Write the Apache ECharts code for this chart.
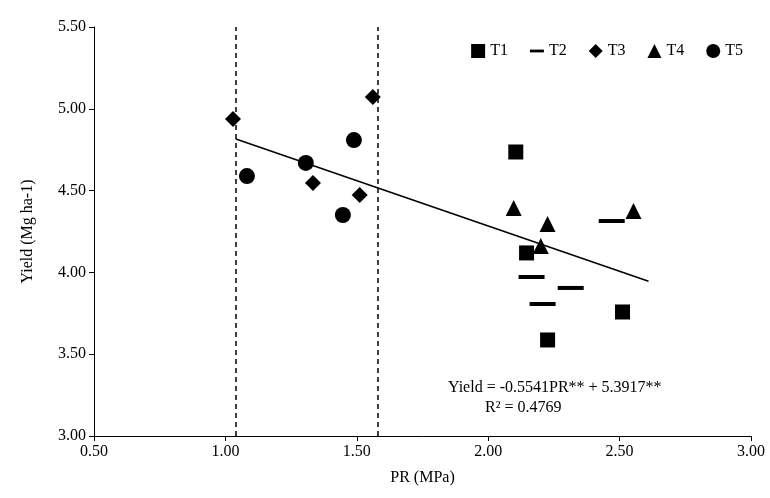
<!DOCTYPE html>
<html><head><meta charset="utf-8">
<script src="https://cdn.jsdelivr.net/npm/echarts@6/dist/echarts.min.js"></script>
<style>html,body{margin:0;background:#fff}#c{width:770px;height:498px}</style>
</head><body><div id="c"></div>
<script>
const t1 = [[2.105, 4.736], [2.146, 4.119], [2.226, 3.587], [2.511, 3.758]];
const t2 = [[2.165, 3.972], [2.207, 3.807], [2.314, 3.905], [2.470, 4.314]];
const t3 = [[1.029, 4.938], [1.333, 4.546], [1.511, 4.473], [1.561, 5.072]];
const t4 = [[2.097, 4.394], [2.226, 4.296], [2.200, 4.161], [2.553, 4.375]];
const t5 = [[1.082, 4.589], [1.306, 4.669], [1.447, 4.351], [1.489, 4.809]];
const slope = -0.5541, intercept = 5.3917;
const fitRange = [1.04, 2.61];
const vLines = [1.036, 1.584];

const font = 'Liberation Serif';
const dash = 'path://M0,0h10v2h-10z';
const chart = echarts.init(document.getElementById('c'));
function sc(name, data, symbol, size) {
  return { name, type: 'scatter', data, symbol, symbolSize: size,
    itemStyle: { color: '#000', opacity: 1 } };
}
chart.setOption({
  animation: false,
  textStyle: { fontFamily: font },
  grid: { left: 94, right: 19, top: 27, bottom: 62 },
  legend: {
    right: 22, top: 38, itemGap: 22, itemWidth: 14, itemHeight: 14,
    textStyle: { fontFamily: font, fontSize: 16, color: '#000' },
    data: [
      { name: 'T1', icon: 'rect' },
      { name: 'T2', icon: dash },
      { name: 'T3', icon: 'diamond' },
      { name: 'T4', icon: 'triangle' },
      { name: 'T5', icon: 'circle' }
    ]
  },
  xAxis: {
    min: 0.5, max: 3, interval: 0.5, name: 'PR (MPa)', nameLocation: 'middle', nameGap: 34,
    nameTextStyle: { fontSize: 16, color: '#000' },
    axisLine: { lineStyle: { color: '#000' } }, axisTick: { length: 5, lineStyle: { color: '#000' } },
    axisLabel: { fontSize: 16, color: '#000', formatter: v => v.toFixed(2) }, splitLine: { show: false }
  },
  yAxis: {
    min: 3, max: 5.5, interval: 0.5, name: 'Yield (Mg ha-1)', nameLocation: 'middle', nameGap: 58,
    nameTextStyle: { fontSize: 16, color: '#000' },
    axisLine: { show: true, lineStyle: { color: '#000' } }, axisTick: { show: true, length: 5, lineStyle: { color: '#000' } },
    axisLabel: { fontSize: 16, color: '#000', formatter: v => v.toFixed(2) }, splitLine: { show: false }
  },
  series: [
    sc('T1', t1, 'rect', 15),
    sc('T2', t2, dash, [26, 4]),
    sc('T3', t3, 'diamond', 16),
    sc('T4', t4, 'triangle', 16),
    sc('T5', t5, 'circle', 16),
    { type: 'line', data: fitRange.map(x => [x, slope * x + intercept]), symbol: 'none',
      lineStyle: { color: '#000', width: 1.5 },
      markLine: { silent: true, symbol: 'none', label: { show: false },
        lineStyle: { color: '#000', type: [5, 4], width: 1.5 },
        data: vLines.map(x => ({ xAxis: x })) } }
  ],
  graphic: [
    { type: 'text', left: 448, top: 380, style: { text: 'Yield = -0.5541PR** + 5.3917**', font: '16px ' + font, fill: '#000' } },
    { type: 'text', left: 485, top: 400, style: { text: 'R² = 0.4769', font: '16px ' + font, fill: '#000' } }
  ]
});
</script></body></html>
